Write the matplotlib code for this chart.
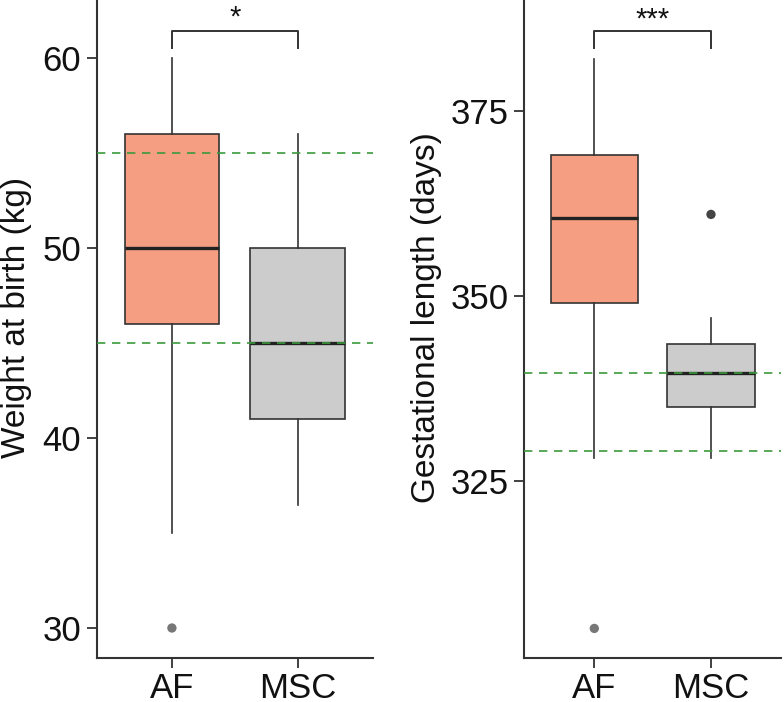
import matplotlib
matplotlib.use("Agg")
import matplotlib.pyplot as plt

plt.rcParams['font.family'] = ['Liberation Sans', 'DejaVu Sans']

groups = ["AF", "MSC"]
box_colors = ["#F59E82", "#CCCCCC"]

# Weight at birth (kg)
w_whislo = [35, 36.5]
w_q1 = [46, 41]
w_med = [50, 45]
w_q3 = [56, 50]
w_whishi = [60, 56]
w_fliers = [[30], []]
w_ref = [55, 45]
w_sig = "*"

# Gestational length (days)
g_whislo = [328, 328]
g_q1 = [349, 335]
g_med = [360.5, 339.5]
g_q3 = [369, 343.5]
g_whishi = [382, 347]
g_fliers = [[305], [361]]
g_ref = [339.5, 329]
g_sig = "***"

fig = plt.figure(figsize=(7.84, 7.02), dpi=100)
axL = fig.add_axes([96.5/784, 44/702, 276.5/784, 658/702])
axR = fig.add_axes([524.3/784, 44/702, 256.7/784, 658/702])

edge = "#333333"

def draw(ax, whislo, q1, med, q3, whishi, fliers, ref, sig, ylim, yticks, ylabel,
         br_y, br_tip, sig_y, flier_colors):
    stats = []
    for i in range(2):
        stats.append(dict(whislo=whislo[i], q1=q1[i], med=med[i], q3=q3[i],
                          whishi=whishi[i], fliers=[], label=groups[i]))
    bp = ax.bxp(stats, positions=[1, 2], widths=0.75, patch_artist=True,
                showcaps=False, showfliers=False,
                boxprops=dict(edgecolor=edge, linewidth=1.2),
                whiskerprops=dict(color=edge, linewidth=1.2),
                medianprops=dict(color="#222222", linewidth=2.4),
                zorder=2)
    for p, c in zip(bp['boxes'], box_colors):
        p.set_facecolor(c)
    for i in range(2):
        if fliers[i]:
            ax.scatter([i + 1] * len(fliers[i]), fliers[i], s=45,
                       color=flier_colors[i], zorder=3, edgecolors='none')
    for r in ref:
        ax.axhline(r, color="#3C9A3C", linestyle=(0, (5, 4)), linewidth=1.2, zorder=4)
    # significance bracket
    ax.plot([1, 1, 2, 2], [br_tip, br_y, br_y, br_tip], color=edge, linewidth=1.4,
            clip_on=False)
    ax.text(1.5, sig_y, sig, ha='center', va='center', fontsize=21, color='#111111')
    ax.set_xlim(0.4, 2.6)
    ax.set_ylim(*ylim)
    ax.set_xticks([1, 2])
    ax.set_xticklabels(groups)
    ax.set_yticks(yticks)
    ax.set_ylabel(ylabel, fontsize=24, color='#111111')
    ax.tick_params(axis='both', labelsize=25, length=7, width=1.3, color=edge,
                   labelcolor='#111111', pad=4)
    ax.tick_params(axis='x', pad=3)
    for s in ['top', 'right']:
        ax.spines[s].set_visible(False)
    for s in ['left', 'bottom']:
        ax.spines[s].set_color(edge)
        ax.spines[s].set_linewidth(1.5)

draw(axL, w_whislo, w_q1, w_med, w_q3, w_whishi, w_fliers, w_ref, w_sig,
     (28.42, 63.07), [30, 40, 50, 60], "Weight at birth (kg)",
     61.45, 60.55, 62.14, ["#777777", "#444444"])
draw(axR, g_whislo, g_q1, g_med, g_q3, g_whishi, g_fliers, g_ref, g_sig,
     (301.0, 390.0), [325, 350, 375], "Gestational length (days)",
     385.85, 383.5, 387.3, ["#777777", "#444444"])

axL.yaxis.set_label_coords(-0.233, 0.518)
axR.yaxis.set_label_coords(-0.32, 0.518)

fig.savefig("out.png", dpi=100)
